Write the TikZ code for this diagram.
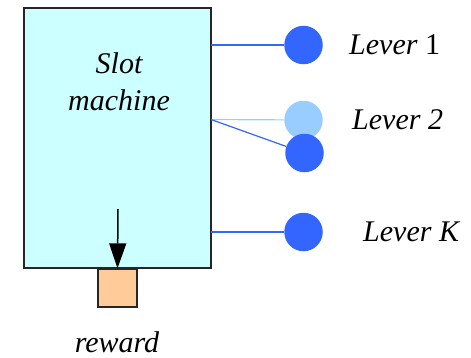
\documentclass[tikz,border=0pt]{standalone}
\usepackage{fontspec}
\setmainfont{Liberation Serif}
\usetikzlibrary{arrows.meta}
\definecolor{machinefill}{HTML}{CCFFFF}
\definecolor{leverblue}{HTML}{3366FF}
\definecolor{leverpale}{HTML}{99CCFF}
\definecolor{rewardfill}{HTML}{FFCC99}
\begin{document}
\begin{tikzpicture}[x=1pt,y=-1pt,
  machine/.style={draw=black!85,line width=1.3pt,fill=machinefill},
  knob/.style={circle,fill=leverblue,minimum size=38.5pt,inner sep=0pt},
  paleknob/.style={circle,fill=leverpale,minimum size=38.5pt,inner sep=0pt},
  rod/.style={leverblue,line width=1.2pt},
  palerod/.style={leverpale,line width=1.2pt},
  bigtext/.style={font=\fontsize{30}{37}\selectfont\itshape},
  lbl/.style={bigtext,anchor=west,inner sep=0pt}]
\useasboundingbox (0,0) rectangle (471,357);
% cabinet
\draw[machine] (24,8) rectangle (211,268);
\node[bigtext,align=center,inner sep=0pt] (title) at (119,82) {Slot\\machine};
% reward tray and payout arrow
\node[draw=black!85,line width=1.3pt,fill=rewardfill,minimum width=39pt,minimum height=38pt,inner sep=0pt] (tray) at (117.5,288) {};
\coordinate (drop) at (118,209);
\draw[-{Triangle[length=25pt,width=17pt]},line width=1.5pt] (drop) -- (tray.north);
\node[bigtext,anchor=base,inner sep=0pt] (reward) at (117,352) {reward};
% levers
\coordinate (r1) at (211,45);
\coordinate (r2) at (211,119.5);
\coordinate (rk) at (211,232);
\node[paleknob] (l2a) at (303.5,120) {};
\draw[palerod] (r2) -- (l2a);
\node[knob] (l1) at (303.5,45) {};
\node[knob] (l2b) at (304.5,153) {};
\node[knob] (lk) at (303.5,232) {};
\draw[rod] (r1) -- (l1);
\draw[rod] (r2) -- (l2b);
\draw[rod] (rk) -- (lk);
\node[lbl] (t1) at (349,45) {Lever \upshape 1};
\node[lbl] (t2) at (352,120) {Lever 2};
\node[lbl] (tk) at (363,231.5) {Lever K};
\end{tikzpicture}
\end{document}
